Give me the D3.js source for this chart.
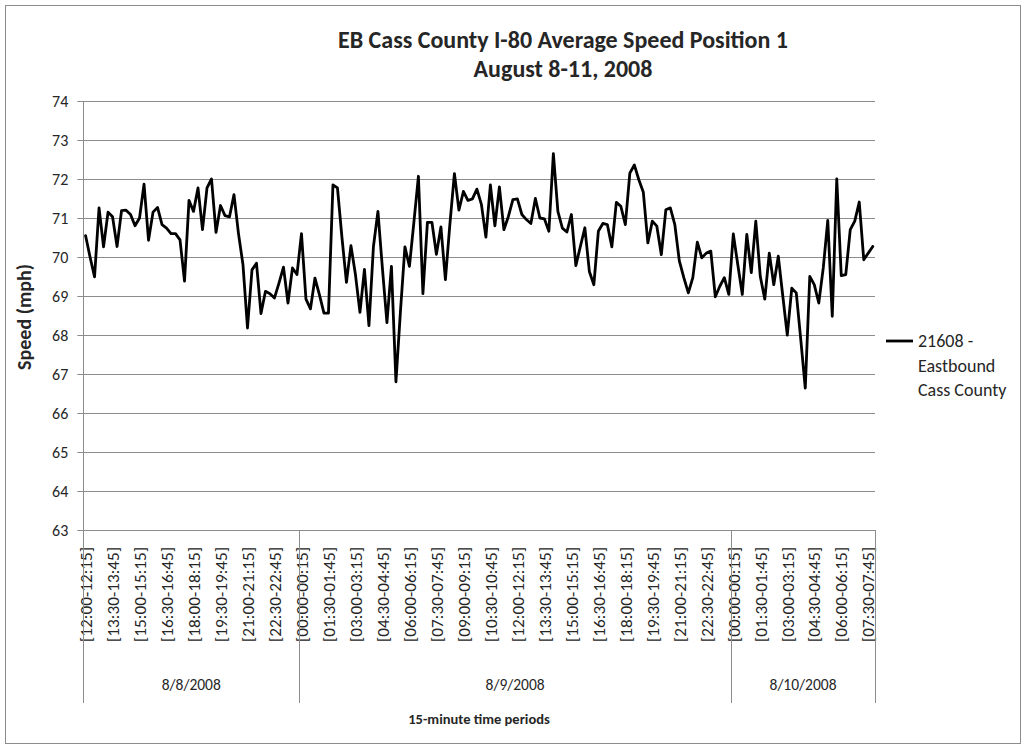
<!DOCTYPE html>
<html>
<head>
<meta charset="utf-8">
<script src="https://cdn.jsdelivr.net/npm/d3@7"></script>
<style>
  html, body { margin: 0; padding: 0; background: #fff; }
  svg { display: block; }
  text { font-family: Carlito, "Open Sans", "Noto Sans", sans-serif; fill: #262626; }
</style>
</head>
<body>
<svg id="chart" width="1026" height="749"></svg>
<script>
// ---------------- DATA ----------------
const titleLines = ["EB Cass County I-80 Average Speed Position 1", "August 8-11, 2008"];
const yAxisTitle = "Speed (mph)";
const xAxisTitle = "15-minute time periods";
const seriesName = ["21608 -", "Eastbound", "Cass County"];

const dates = ["8/8/2008", "8/9/2008", "8/10/2008"];
const dayStartMinutes = [720, 0, 0];      // first period of each day
const periodsPerDay = [48, 96, 32];       // 15-minute periods per day

const yTicks = [63, 64, 65, 66, 67, 68, 69, 70, 71, 72, 73, 74];

const speeds_8_8 = [
  70.55, 70.0, 69.49, 71.26, 70.26, 71.15, 71.03, 70.27, 71.19, 71.2, 71.09, 70.8,
  71.0, 71.87, 70.43, 71.15, 71.27, 70.83, 70.74, 70.6, 70.6, 70.44, 69.38, 71.45,
  71.17, 71.77, 70.7, 71.77, 72.0, 70.63, 71.32, 71.06, 71.03, 71.6, 70.6, 69.8,
  68.18, 69.67, 69.84, 68.55, 69.12, 69.06, 68.95, 69.33, 69.74, 68.82, 69.72, 69.55
];
const speeds_8_9 = [
  70.6, 68.92, 68.67, 69.46, 69.03, 68.56, 68.56, 71.85, 71.77, 70.5, 69.35, 70.29,
  69.55, 68.58, 69.68, 68.24, 70.27, 71.17, 69.7, 68.32, 69.76, 66.8, 68.6, 70.26,
  69.76, 70.9, 72.07, 69.06, 70.89, 70.89, 70.07, 70.77, 69.42, 70.85, 72.14, 71.2,
  71.68, 71.45, 71.49, 71.74, 71.35, 70.51, 71.85, 70.8, 71.8, 70.7, 71.04, 71.47,
  71.49, 71.09, 70.96, 70.86, 71.5, 71.0, 70.98, 70.66, 72.65, 71.17, 70.74, 70.64,
  71.09, 69.78, 70.27, 70.75, 69.63, 69.29, 70.66, 70.86, 70.83, 70.26, 71.4, 71.3,
  70.83, 72.15, 72.36, 71.98, 71.66, 70.36, 70.92, 70.79, 70.06, 71.21, 71.26, 70.83,
  69.9, 69.47, 69.08, 69.47, 70.38, 69.98, 70.1, 70.15, 68.98, 69.25, 69.47, 69.04
];
const speeds_8_10 = [
  70.59, 69.8, 69.04, 70.58, 69.6, 70.92, 69.5, 68.92, 70.1, 69.29, 70.02, 69.0,
  68.0, 69.2, 69.08, 67.88, 66.64, 69.5, 69.29, 68.82, 69.72, 70.94, 68.48, 72.0,
  69.52, 69.55, 70.7, 70.92, 71.41, 69.93, 70.1, 70.27
];
const speedsByDay = [speeds_8_8, speeds_8_9, speeds_8_10];

// ---------------- BUILD CATEGORY TABLE ----------------
const pad = n => String(n).padStart(2, "0");
const hm = m => pad(Math.floor(m / 60) % 24) + ":" + pad(m % 60);
const rows = [];
dates.forEach((d, di) => {
  for (let k = 0; k < periodsPerDay[di]; k++) {
    const m = dayStartMinutes[di] + 15 * k;
    rows.push({
      idx: rows.length,
      day: di,
      label: "[" + hm(m) + "-" + hm(m + 15) + "]",
      value: speedsByDay[di][k]
    });
  }
});

// ---------------- LAYOUT ----------------
const svg = d3.select("#chart");
const plot = { left: 83.3, right: 875, top: 101, bottom: 530 };
const labelBottom = 703;
const gridColor = "#8c8c8c";
const FONT = 'Carlito, "Open Sans", "Noto Sans", sans-serif';

svg.append("rect")
  .attr("x", 5.5).attr("y", 5.5).attr("width", 1015).attr("height", 738)
  .attr("fill", "#fff").attr("stroke", "#8c8c8c").attr("stroke-width", 1);

const x = d3.scaleBand().domain(rows.map(r => r.idx)).range([plot.left, plot.right]).padding(0);
const xc = i => x(i) + x.bandwidth() / 2;
const y = d3.scaleLinear().domain([63, 74]).range([plot.bottom, plot.top]);

// gridlines
svg.append("g")
  .selectAll("line").data(yTicks.filter(t => t !== 63)).join("line")
  .attr("x1", plot.left).attr("x2", plot.right)
  .attr("y1", d => Math.round(y(d)) + 0.5).attr("y2", d => Math.round(y(d)) + 0.5)
  .attr("stroke", gridColor).attr("stroke-width", 1);

// y axis
const yAxis = svg.append("g")
  .attr("transform", `translate(${plot.left},0)`)
  .call(d3.axisLeft(y).tickValues(yTicks).tickSize(6).tickPadding(9).tickFormat(d3.format("d")));
yAxis.select(".domain").remove();
yAxis.selectAll(".tick line").attr("stroke", gridColor);
yAxis.selectAll(".tick text")
  .attr("font-size", 16).attr("fill", "#262626")
  .style("font-family", FONT);

// x axis (rotated period labels every 6th category)
const xAxis = svg.append("g")
  .attr("transform", `translate(0,${plot.bottom})`)
  .call(d3.axisBottom(x).tickValues(rows.filter(r => r.idx % 6 === 0).map(r => r.idx))
    .tickSize(0).tickFormat(i => rows[i].label));
xAxis.select(".domain").remove();
const xt = xAxis.selectAll(".tick text")
  .attr("font-size", 13)
  .attr("fill", "#262626")
  .style("font-family", FONT)
  .attr("transform", "rotate(-90)")
  .attr("x", -17).attr("y", 0).attr("dy", "0.36em")
  .style("text-anchor", "end");
{
  const w = xt.node().getComputedTextLength();
  xt.attr("font-size", (13 * 95 / w).toFixed(2));
}

// axis lines and category group separators
svg.append("line")
  .attr("x1", plot.left).attr("x2", plot.right)
  .attr("y1", plot.bottom + 0.5).attr("y2", plot.bottom + 0.5)
  .attr("stroke", gridColor);
svg.append("line")
  .attr("x1", Math.round(plot.left) + 0.5).attr("x2", Math.round(plot.left) + 0.5)
  .attr("y1", plot.top).attr("y2", labelBottom)
  .attr("stroke", gridColor);

const dayBounds = dates.map((d, di) => {
  const first = rows.find(r => r.day === di).idx;
  const last = rows.filter(r => r.day === di).slice(-1)[0].idx;
  return { date: d, x0: x(first), x1: x(last) + x.bandwidth() };
});
svg.append("g").selectAll("line").data(dayBounds.map(b => b.x1)).join("line")
  .attr("x1", d => Math.round(d) + 0.5).attr("x2", d => Math.round(d) + 0.5)
  .attr("y1", plot.bottom).attr("y2", labelBottom)
  .attr("stroke", gridColor);
svg.append("g").selectAll("text").data(dayBounds).join("text")
  .attr("x", d => (d.x0 + d.x1) / 2).attr("y", 690)
  .attr("text-anchor", "middle").attr("font-size", 15.5)
  .text(d => d.date);

// line
svg.append("path")
  .datum(rows)
  .attr("fill", "none").attr("stroke", "#000").attr("stroke-width", 2.8)
  .attr("stroke-linejoin", "round").attr("stroke-linecap", "round")
  .attr("d", d3.line().x(d => xc(d.idx)).y(d => y(d.value)));

// titles
svg.append("text").attr("x", 563).attr("y", 48)
  .attr("text-anchor", "middle").attr("font-weight", "bold").attr("font-size", 24)
  .text(titleLines[0]);
svg.append("text").attr("x", 563).attr("y", 77)
  .attr("text-anchor", "middle").attr("font-weight", "bold").attr("font-size", 24)
  .text(titleLines[1]);

svg.append("text")
  .attr("transform", "translate(31,317) rotate(-90)")
  .attr("text-anchor", "middle").attr("font-weight", "bold").attr("font-size", 20)
  .text(yAxisTitle);
svg.append("text").attr("x", 479).attr("y", 724)
  .attr("text-anchor", "middle").attr("font-weight", "bold").attr("font-size", 14.5)
  .text(xAxisTitle);

// legend
svg.append("line").attr("x1", 886).attr("x2", 913).attr("y1", 341).attr("y2", 341)
  .attr("stroke", "#000").attr("stroke-width", 2.8);
svg.append("g").selectAll("text").data(seriesName).join("text")
  .attr("x", 918).attr("y", (d, i) => 347 + i * 24.5)
  .attr("font-size", 18)
  .text(d => d);
</script>
</body>
</html>
